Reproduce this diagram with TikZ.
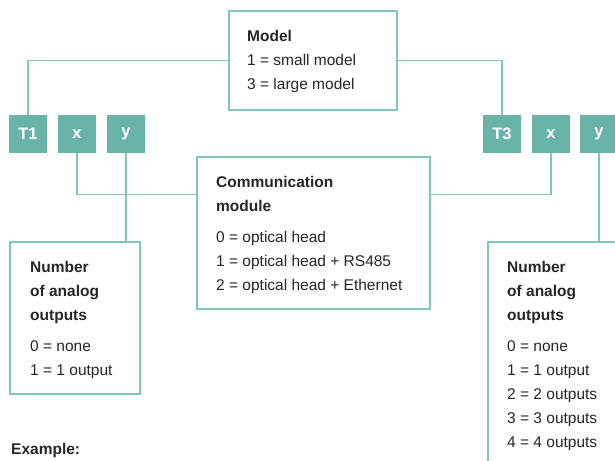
\documentclass[tikz,border=0pt]{standalone}
\usepackage{fontspec}
\setmainfont{Liberation Sans}
\definecolor{keyfill}{HTML}{68B4A6}
\definecolor{wirecol}{HTML}{80C6BA}
\definecolor{textcol}{HTML}{262626}
\begin{document}
\begin{tikzpicture}[x=1pt,y=-1pt,
  box/.style={draw=wirecol,line width=1.5pt,fill=white,inner sep=0pt},
  key/.style={fill=keyfill,text=white,inner sep=0pt,minimum width=38pt,minimum height=38pt,
    font=\bfseries\fontsize{16.5}{18}\selectfont},
  boxtext/.style={anchor=north west,inner sep=0pt,align=left,text=textcol,
    font=\fontsize{15.5}{24}\selectfont},
  wire/.style={draw=wirecol,line width=1.5pt}]
\useasboundingbox (0,0) rectangle (615,460);
\clip (0,0) rectangle (615,460);
\node[box,minimum width=168pt,minimum height=99pt] (model) at (313,60.5) {};
\node[box,minimum width=233pt,minimum height=152pt] (comm) at (313.5,233) {};
\node[box,minimum width=130pt,minimum height=152pt] (anl) at (75,318) {};
\node[box,minimum width=152pt,minimum height=238pt] (anr) at (564,361) {};
\node[key] (t1) at (28,134) {T1};
\node[key] (xa) at (77,134) {x};
\node[key] (ya) at (126,134) {y};
\node[key] (t3) at (502,134) {T3};
\node[key] (xb) at (551,134) {x};
\node[key] (yb) at (599,134) {y};
\node[boxtext] (modeltext) at (247,30.4) {\textbf{Model}\\1 = small model\\3 = large model};
\node[boxtext] (commtext) at (216,176.4) {\textbf{Communication}\\\textbf{module}\\[7pt]0 = optical head\\1 = optical head + RS485\\2 = optical head + Ethernet};
\node[boxtext] (anltext) at (30,261.4) {\textbf{Number}\\\textbf{of analog}\\\textbf{outputs}\\[7pt]0 = none\\1 = 1 output};
\node[boxtext] (anrtext) at (507,261.4) {\textbf{Number}\\\textbf{of analog}\\\textbf{outputs}\\[7pt]0 = none\\1 = 1 output\\2 = 2 outputs\\3 = 3 outputs\\4 = 4 outputs};
\node[boxtext] (example) at (11,443) {\textbf{Example:}};
\draw[wire] (model.west) -| (t1.north);
\draw[wire] (model.east) -| (t3.north);
\draw[wire] (xa.south) |- ([yshift=-38pt]comm.north west);
\draw[wire] (xb.south) |- ([yshift=-38pt]comm.north east);
\draw[wire] (ya.south) -- (ya.south |- anl.north);
\draw[wire] (yb.south) -- (yb.south |- anr.north);
\end{tikzpicture}
\end{document}
